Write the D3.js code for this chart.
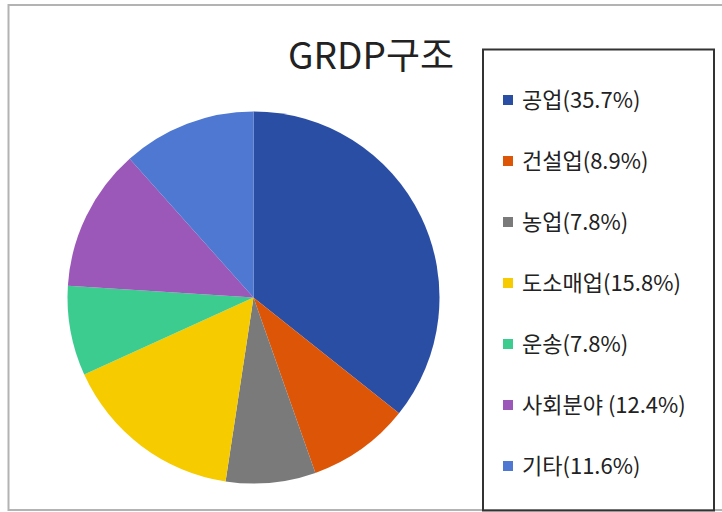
<!DOCTYPE html>
<html>
<head>
<meta charset="utf-8">
<script src="https://cdn.jsdelivr.net/npm/d3@7"></script>
<style>
  body { margin: 0; background: #fff; }
  text { font-family: "Noto Sans CJK KR", "Noto Sans", sans-serif; fill: #222; }
</style>
</head>
<body>
<script>
// data
const sectors = ["공업", "건설업", "농업", "도소매업", "운송", "사회분야 ", "기타"];
const shares = [35.7, 8.9, 7.8, 15.8, 7.8, 12.4, 11.6];
const colors = ["#2b4ea5", "#dd5608", "#7a7a7a", "#f6cb00", "#3dcc90", "#9b58b8", "#4e78d1"];

const width = 722, height = 512;
const cx = 253.5, cy = 297.5, radius = 186;

const svg = d3.select("body").append("svg")
    .attr("width", width)
    .attr("height", height);

// outer frame
svg.append("rect")
    .attr("x", 8.5).attr("y", 5)
    .attr("width", 730).attr("height", 505)
    .style("fill", "none")
    .style("stroke", "#b3b3b3")
    .style("stroke-width", 2);

// title
svg.append("text")
    .attr("x", 371).attr("y", 68.5)
    .attr("text-anchor", "middle")
    .style("font-size", "37px")
    .text("GRDP구조");

// pie
const data = sectors.map((s, i) => ({ name: s, value: shares[i], color: colors[i] }));
const pie = d3.pie().sort(null).value(d => d.value);
const arc = d3.arc().innerRadius(0).outerRadius(radius);

svg.append("g")
    .attr("transform", "translate(" + cx + "," + cy + ")")
  .selectAll("path")
    .data(pie(data))
    .enter()
    .append("path")
    .attr("d", arc)
    .style("fill", d => d.data.color);

// legend box
svg.append("rect")
    .attr("x", 483).attr("y", 49.5)
    .attr("width", 231).attr("height", 461)
    .style("fill", "none")
    .style("stroke", "#333")
    .style("stroke-width", 2);

const rowY = d3.scalePoint().domain(sectors).range([100, 466]);

const item = svg.append("g").selectAll("g")
    .data(data)
    .enter()
    .append("g")
    .attr("transform", d => "translate(503," + rowY(d.name) + ")");

item.append("rect")
    .attr("y", -5)
    .attr("width", 10).attr("height", 10)
    .style("fill", d => d.color);

item.append("text")
    .attr("x", 19).attr("y", 8)
    .style("font-size", "22px")
    .text((d, i) => d.name + "(" + shares[i] + "%)");
</script>
</body>
</html>
